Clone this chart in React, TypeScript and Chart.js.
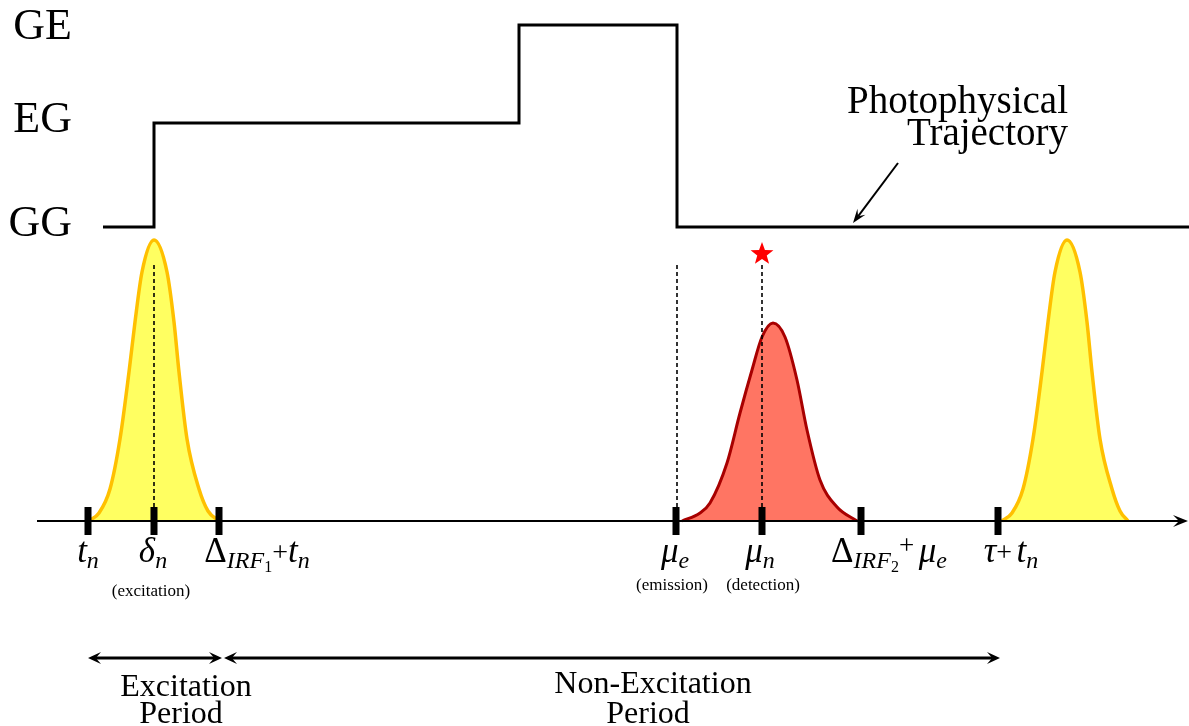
import React, { useEffect, useRef } from 'react';
import { Chart, registerables } from 'chart.js';

Chart.register(...registerables);

// ---- frame: x = time (left → right), y = height above the time axis ----
const X_MIN = 0;
const X_MAX = 1189;
const Y_MIN = -205;
const Y_MAX = 521;

// ---- photophysical trajectory (state levels) ----
const STATES = ['GG', 'EG', 'GE'];
const STATE_LEVELS = [294, 398, 496];
const TRAJ_X = [103, 154, 519, 677, 1189];
const TRAJ_STATE = ['GG', 'EG', 'GE', 'GG', 'GG'];

// ---- excitation pulse (IRF 1), first period ----
const EXC1_X = [89, 99, 110, 120, 129, 135, 142, 154, 167, 174, 179, 187, 199, 208, 219];
const EXC_Y = [0, 8, 32, 82, 149, 199, 249, 281, 249, 199, 149, 82, 32, 10, 0];
// ---- excitation pulse, next period ----
const EXC2_X = [1002, 1012, 1023, 1033, 1042, 1048, 1055, 1067, 1080, 1087, 1092, 1100, 1112, 1120, 1128];
// ---- emission / detection distribution (IRF 2) ----
const EMIT_X = [682, 700, 710, 727, 740, 752, 762, 773, 785, 797, 807, 820, 837, 857];
const EMIT_Y = [0, 8, 18, 58, 108, 151, 184, 198, 184, 141, 91, 41, 14, 0];

// ---- time-axis ticks ----
const TICK_X = [88, 154, 219, 676, 762, 861, 998];
type Seg = [string, string];
const TICK_LABELS: Seg[][] = [
  [['t', 'm'], ['n', 's']],
  [['δ', 'm'], ['n', 's']],
  [['Δ', 'u'], ['IRF', 's'], ['1', 'ss'], ['+', 'p'], ['t', 'm'], ['n', 's']],
  [['μ', 'm'], ['e', 's']],
  [['μ', 'm'], ['n', 's']],
  [['Δ', 'u'], ['IRF', 's'], ['2', 'ss'], ['+', 'ps'], [' ', 'sp'], ['μ', 'm'], ['e', 's']],
  [['τ', 'm'], ['+', 'p'], [' ', 'sp'], ['t', 'm'], ['n', 's']],
];
const TICK_CAPTIONS = ['', '(excitation)', '', '(emission)', '(detection)', '', ''];

// ---- dashed markers and detected photon ----
const DASH_X = [154, 677, 762];
const DASH_TOP = [259, 259, 258];
const PHOTON_X = [762];
const PHOTON_Y = [268];

// ---- time axis arrow ----
const AXIS_X = [37, 1188];

// ---- period arrows ----
const PERIOD_START = [88, 224];
const PERIOD_END = [222, 1000];
const PERIOD_Y = -137;
const PERIOD_LABELS = [
  ['Excitation', 'Period'],
  ['Non-Excitation', 'Period'],
];

// ---- pointer to trajectory ----
const POINTER_FROM = [898, 358];
const POINTER_TO = [853, 298];
const POINTER_LABEL = ['Photophysical', 'Trajectory'];

// ---------------- styles ----------------
const SERIF = '"Liberation Serif", "DejaVu Serif", serif';
const KIND: Record<string, { font: string; dy: number }> = {
  m: { font: `italic 35px ${SERIF}`, dy: 0 },
  u: { font: `35px ${SERIF}`, dy: 0 },
  s: { font: `italic 24px ${SERIF}`, dy: 6 },
  ss: { font: `16px ${SERIF}`, dy: 10 },
  p: { font: `28px ${SERIF}`, dy: -1 },
  ps: { font: `27px ${SERIF}`, dy: -8 },
  sp: { font: `18px ${SERIF}`, dy: 0 },
};
const TICK_LABEL_DX = [0, -1, 38, -1, -2, 28, 13];
const CAPTION_DX = [0, -3, 0, -4, 1, 0, 0];
const CAPTION_DY = [0, 75, 0, 69, 69, 0, 0];
const LEVEL_LABEL_DY = [9, 9, 14];

function makeStar(): HTMLCanvasElement {
  const c = document.createElement('canvas');
  c.width = 26;
  c.height = 26;
  const g = c.getContext('2d')!;
  g.fillStyle = '#ff0000';
  g.beginPath();
  for (let i = 0; i < 10; i++) {
    const r = i % 2 === 0 ? 12 : 5;
    const a = -Math.PI / 2 + (i * Math.PI) / 5;
    const px = 13 + r * Math.cos(a);
    const py = 14 + r * Math.sin(a);
    if (i === 0) g.moveTo(px, py);
    else g.lineTo(px, py);
  }
  g.closePath();
  g.fill();
  return c;
}

function arrowHead(ctx: CanvasRenderingContext2D, x: number, y: number, ang: number, len: number, hw: number) {
  ctx.save();
  ctx.translate(x, y);
  ctx.rotate(ang);
  ctx.beginPath();
  ctx.moveTo(0, 0);
  ctx.lineTo(-len, -hw);
  ctx.lineTo(-len * 0.6, 0);
  ctx.lineTo(-len, hw);
  ctx.closePath();
  ctx.fill();
  ctx.restore();
}

function arrow(ctx: CanvasRenderingContext2D, x1: number, y1: number, x2: number, y2: number, w: number, len: number, hw: number, both: boolean) {
  const ang = Math.atan2(y2 - y1, x2 - x1);
  const cut = len * 0.6;
  const sx = both ? x1 + Math.cos(ang) * cut : x1;
  const sy = both ? y1 + Math.sin(ang) * cut : y1;
  const ex = x2 - Math.cos(ang) * cut;
  const ey = y2 - Math.sin(ang) * cut;
  ctx.save();
  ctx.strokeStyle = '#000';
  ctx.fillStyle = '#000';
  ctx.lineWidth = w;
  ctx.lineCap = 'butt';
  ctx.beginPath();
  ctx.moveTo(sx, sy);
  ctx.lineTo(ex, ey);
  ctx.stroke();
  arrowHead(ctx, x2, y2, ang, len, hw);
  if (both) arrowHead(ctx, x1, y1, ang + Math.PI, len, hw);
  ctx.restore();
}

function richText(ctx: CanvasRenderingContext2D, segs: Seg[], cx: number, by: number) {
  let total = 0;
  const widths = segs.map(([t, k]) => {
    ctx.font = KIND[k].font;
    const w = ctx.measureText(t).width;
    total += w;
    return w;
  });
  let x = cx - total / 2;
  ctx.textAlign = 'left';
  ctx.textBaseline = 'alphabetic';
  segs.forEach(([t, k], i) => {
    ctx.font = KIND[k].font;
    ctx.fillText(t, x, by + KIND[k].dy);
    x += widths[i];
  });
}

const annotations = {
  id: 'diagramText',
  afterDatasetsDraw(chart: any) {
    const ctx: CanvasRenderingContext2D = chart.ctx;
    const xs = chart.scales.x;
    const ys = chart.scales.y;
    const px = (v: number) => xs.getPixelForValue(v);
    const py = (v: number) => ys.getPixelForValue(v);
    ctx.save();
    ctx.fillStyle = '#000';

    // time axis
    arrow(ctx, px(AXIS_X[0]), py(0), px(AXIS_X[1]), py(0), 2, 15, 6, false);

    // period arrows
    PERIOD_START.forEach((s, i) => {
      arrow(ctx, px(s), py(PERIOD_Y), px(PERIOD_END[i]), py(PERIOD_Y), 3, 13, 6, true);
    });

    // pointer arrow
    arrow(ctx, px(POINTER_FROM[0]), py(POINTER_FROM[1]), px(POINTER_TO[0]), py(POINTER_TO[1]), 2, 14, 5, false);

    // state labels
    ctx.font = `44px ${SERIF}`;
    ctx.textAlign = 'right';
    ctx.textBaseline = 'alphabetic';
    STATES.forEach((s, i) => {
      ctx.fillText(s, 72, py(STATE_LEVELS[i]) + LEVEL_LABEL_DY[i]);
    });

    // pointer label
    ctx.font = `39px ${SERIF}`;
    ctx.textAlign = 'right';
    ctx.fillText(POINTER_LABEL[0], 1068, 113);
    ctx.fillText(POINTER_LABEL[1], 1068, 145);

    // tick labels
    const base = py(0);
    TICK_X.forEach((t, i) => {
      richText(ctx, TICK_LABELS[i], px(t) + TICK_LABEL_DX[i], base + 41);
      if (TICK_CAPTIONS[i]) {
        ctx.font = `17px ${SERIF}`;
        ctx.textAlign = 'center';
        ctx.fillText(TICK_CAPTIONS[i], px(t) + CAPTION_DX[i], base + CAPTION_DY[i]);
      }
    });

    // period labels
    ctx.font = `32px ${SERIF}`;
    ctx.textAlign = 'center';
    PERIOD_LABELS.forEach((lines, i) => {
      const cx = (px(PERIOD_START[i]) + px(PERIOD_END[i])) / 2;
      const y0 = py(PERIOD_Y);
      ctx.fillText(lines[0], cx + (i === 0 ? 31 : 41), y0 + (i === 0 ? 38 : 35));
      ctx.fillText(lines[1], cx + (i === 0 ? 26 : 36), y0 + 65);
    });
    ctx.restore();
  },
};

export default function App() {
  const ref = useRef<HTMLCanvasElement | null>(null);
  useEffect(() => {
    if (!ref.current) return;
    const level = (s: string) => STATE_LEVELS[STATES.indexOf(s)];
    const star = makeStar();
    const datasets: any[] = [
      {
        data: EXC1_X.map((x, i) => ({ x, y: EXC_Y[i] })),
        borderColor: '#ffc000',
        backgroundColor: 'rgba(255,255,80,0.9)',
        borderWidth: 3.5,
        fill: 'origin',
        cubicInterpolationMode: 'monotone',
        order: 10,
      },
      {
        data: EXC2_X.map((x, i) => ({ x, y: EXC_Y[i] })),
        borderColor: '#ffc000',
        backgroundColor: 'rgba(255,255,80,0.9)',
        borderWidth: 3.5,
        fill: 'origin',
        cubicInterpolationMode: 'monotone',
        order: 10,
      },
      {
        data: EMIT_X.map((x, i) => ({ x, y: EMIT_Y[i] })),
        borderColor: '#a80000',
        backgroundColor: '#ff7563',
        borderWidth: 3,
        fill: 'origin',
        cubicInterpolationMode: 'monotone',
        order: 10,
      },
      {
        data: TRAJ_X.map((x, i) => ({ x, y: level(TRAJ_STATE[i]) })),
        borderColor: '#000',
        borderWidth: 3,
        stepped: 'before',
        borderJoinStyle: 'miter',
        fill: false,
        order: 5,
      },
      ...DASH_X.map((x, i) => ({
        data: [
          { x, y: 0 },
          { x, y: DASH_TOP[i] },
        ],
        borderColor: '#000',
        borderWidth: 1.6,
        borderDash: [4, 3],
        fill: false,
        order: 4,
      })),
      {
        data: TICK_X.map((x) => ({ x, y: 0 })),
        showLine: false,
        pointStyle: 'line',
        rotation: 90,
        pointRadius: 14,
        pointBorderWidth: 7,
        pointBorderColor: '#000',
        order: 1,
      },
      {
        data: PHOTON_X.map((x, i) => ({ x, y: PHOTON_Y[i] })),
        showLine: false,
        pointStyle: star,
        pointRadius: 12,
        order: 1,
      },
    ];
    datasets.forEach((d) => {
      if (d.pointRadius === undefined) d.pointRadius = 0;
      d.clip = false;
    });
    const chart = new Chart(ref.current, {
      type: 'line',
      data: { datasets },
      options: {
        animation: false,
        responsive: false,
        devicePixelRatio: 1,
        layout: { padding: 0, autoPadding: false },
        events: [],
        scales: {
          x: { type: 'linear', min: X_MIN, max: X_MAX, display: false },
          y: { type: 'linear', min: Y_MIN, max: Y_MAX, display: false },
        },
        plugins: { legend: { display: false }, tooltip: { enabled: false } },
      },
      plugins: [annotations],
    });
    return () => chart.destroy();
  }, []);
  return (
    <div style={{ position: 'absolute', left: 0, top: 0, width: 1189, height: 726, background: '#fff' }}>
      <canvas ref={ref} width={1189} height={726} style={{ display: 'block' }} />
    </div>
  );
}
